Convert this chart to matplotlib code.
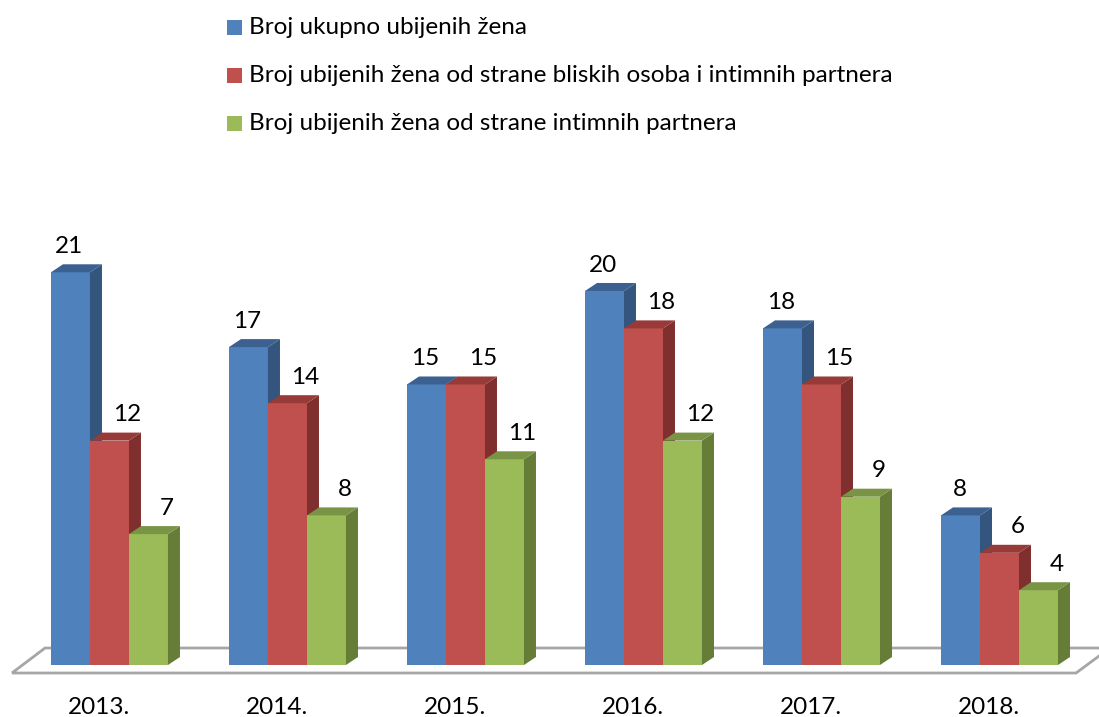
import numpy as np
import matplotlib
matplotlib.use("Agg")
import matplotlib.pyplot as plt
from matplotlib.patches import Polygon, Rectangle

years = ["2013.", "2014.", "2015.", "2016.", "2017.", "2018."]
total = [21, 17, 15, 20, 18, 8]
close_persons = [12, 14, 15, 18, 15, 6]
partners = [7, 8, 11, 12, 9, 4]
labels = [
    "Broj ukupno ubijenih žena",
    "Broj ubijenih žena od strane bliskih osoba i intimnih partnera",
    "Broj ubijenih žena od strane intimnih partnera",
]

front = ["#4F81BD", "#C0504D", "#9BBB59"]
top_c = ["#3C6191", "#973A38", "#7A9446"]
side_c = ["#34557E", "#7F302E", "#657D37"]

plt.rcParams["font.family"] = ["Lato", "DejaVu Sans"]

fig = plt.figure(figsize=(10.99, 7.17), dpi=100)
ax = fig.add_axes([0, 0, 1, 1])
ax.set_xlim(-0.615, 5.559)
ax.set_ylim(-2.78, 35.56)
ax.axis("off")

w = 39 / 178
dx = 12 / 178
dy = 8 / 18.7
x = np.arange(len(years))
lab_shift = [-1 / 178, 18 / 178, 18 / 178]  # excel nudges labels off the taller neighbour

# floor
fl = [(-0.548, -0.428), (-0.362, 0.909), (5.62, 0.909), (5.43, -0.428)]
ax.add_patch(Polygon(fl, closed=True, fill=False, edgecolor="#A6A6A6", lw=2, zorder=1))

series = [total, close_persons, partners]
for i, vals in enumerate(series):
    lefts = x + (i - 1.5) * w
    ax.bar(lefts, vals, width=w, align="edge", color=front[i], lw=0, zorder=3 + 2 * i)
    for xl, v in zip(lefts, vals):
        xr = xl + w
        ax.add_patch(Polygon([(xr, 0), (xr + dx, dy), (xr + dx, v + dy), (xr, v)],
                             color=side_c[i], lw=0, zorder=4 + 2 * i))
        ax.add_patch(Polygon([(xl, v), (xl + dx, v + dy), (xr + dx, v + dy), (xr, v)],
                             color=top_c[i], lw=0, zorder=4 + 2 * i))
        ax.text(xl + w / 2 + lab_shift[i], v + dy + 0.4, str(v), ha="center", va="bottom",
                fontsize=17.5, color="black", zorder=10)

for xi, y in zip(x, years):
    ax.text(xi - 0.06, -2.25, y, ha="center", va="center", fontsize=17.5)

# legend
for i, lab in enumerate(labels):
    yc = 1 - (27 + 48 * i) / 717
    fig.add_artist(Rectangle((227 / 1099, yc - 8 / 717), 15 / 1099, 15 / 717,
                             transform=fig.transFigure, color=front[i], lw=0))
    fig.text(249 / 1099, yc, lab, ha="left", va="center", fontsize=17.5)

fig.savefig("out.png", dpi=100)
